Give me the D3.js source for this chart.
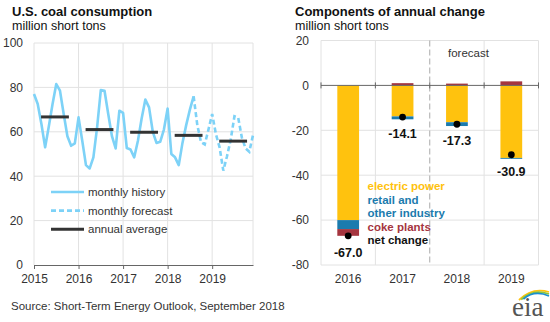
<!DOCTYPE html>
<html>
<head>
<meta charset="utf-8">
<script src="https://cdn.jsdelivr.net/npm/d3@7"></script>
<style>
  body { margin: 0; background: #fff; }
  svg { display: block; font-family: "Liberation Sans", Arial, sans-serif; }
</style>
</head>
<body>
<div id="chart"></div>
<script>
// ---- left panel: monthly coal consumption, million short tons ----
const yearLabels = ['2015', '2016', '2017', '2018', '2019'];

// Jan 2015 – Aug 2018
const monthlyHistory = [
  77, 72.5, 63.5, 53, 62.5, 72.5, 81.5, 78.5, 68, 58, 53.7, 54.8,
  66.5, 56, 45, 43.5, 48.5, 62, 78.8, 78.5, 68, 58, 52.5, 69.5,
  68.5, 52.7, 52, 48.5, 56, 66, 74.5, 71, 60, 55, 55.5, 61,
  70.5, 50, 48.5, 45, 55, 63, 70, 76
];
// Aug 2018 – Dec 2019 (first point shared with history)
const forecastStart = 43;
const monthlyForecast = [
  76, 63, 55.3, 54.3, 61,
  68, 59, 53, 42.5, 49, 56.5, 67, 66.5, 57.4, 52.5, 51, 58.5
];
const annualAverage = [66.7, 61.0, 59.8, 58.4, 55.8];

// ---- right panel: components of annual change ----
const changeYears = ['2016', '2017', '2018', '2019'];
const electricPower = [-60.0, -13.8, -16.4, -32.3];
const retailIndustry = [-4.0, -1.3, -1.7, -0.4];
const cokePlants = [-3.0, 1.0, 0.8, 1.8];
const netChange = [-67.0, -14.1, -17.3, -30.9];

const W = 550, H = 322;
const GRID = '#e2e2e2', AXIS = '#666', TXT = '#333';
const FONT = '"Liberation Sans", Arial, sans-serif';
const LIGHT_BLUE = '#7dd2f7';
const COLORS = { electric: '#ffc20e', retail: '#1b7bae', coke: '#a5353f' };

const svg = d3.select('#chart').append('svg')
  .attr('width', W).attr('height', H).attr('viewBox', `0 0 ${W} ${H}`);

// titles
function title(x, main, sub) {
  svg.append('text').attr('x', x).attr('y', 16)
    .attr('font-size', 13).attr('font-weight', 'bold').attr('fill', '#111').text(main);
  svg.append('text').attr('x', x).attr('y', 30)
    .attr('font-size', 12.5).attr('fill', '#111').text(sub);
}
title(12, 'U.S. coal consumption', 'million short tons');
title(295, 'Components of annual change', 'million short tons');

const styleTicks = a => a.selectAll('text')
  .attr('font-size', 12).attr('fill', TXT).attr('font-family', FONT);

/* ---------- left chart ---------- */
const L = { left: 34, right: 253, top: 43, bottom: 265 };
const xL = d3.scaleLinear().domain([0, 59]).range([L.left, L.right]);
const yL = d3.scaleLinear().domain([0, 100]).range([L.bottom, L.top]);
const gL = svg.append('g');

gL.selectAll('.hgrid').data([20, 40, 60, 80, 100]).join('line')
  .attr('x1', L.left).attr('x2', L.right)
  .attr('y1', d => yL(d)).attr('y2', d => yL(d))
  .attr('stroke', GRID);
gL.selectAll('.vgrid').data([0, 12, 24, 36, 48, 59]).join('line')
  .attr('x1', d => xL(d)).attr('x2', d => xL(d))
  .attr('y1', L.top).attr('y2', L.bottom)
  .attr('stroke', GRID);

gL.append('g').attr('transform', `translate(${L.left},0)`)
  .call(d3.axisLeft(yL).tickValues([0, 20, 40, 60, 80, 100])
    .tickFormat(d => String(d)).tickSize(0).tickPadding(11))
  .call(a => a.select('.domain').remove())
  .call(styleTicks);

gL.append('g').attr('transform', `translate(0,${L.bottom})`)
  .call(d3.axisBottom(xL).tickValues([0, 12, 24, 36, 48])
    .tickFormat((d, i) => yearLabels[i]).tickSizeInner(4).tickSizeOuter(0).tickPadding(5))
  .call(a => a.select('.domain').attr('stroke', AXIS))
  .call(a => a.selectAll('line').attr('stroke', AXIS))
  .call(styleTicks);

const histLine = d3.line().x((d, i) => xL(i)).y(d => yL(d));
const fcstLine = d3.line().x((d, i) => xL(forecastStart + i)).y(d => yL(d));

gL.append('path').datum(monthlyHistory)
  .attr('fill', 'none').attr('stroke', LIGHT_BLUE).attr('stroke-width', 2.6)
  .attr('stroke-linejoin', 'round').attr('d', histLine);
gL.append('path').datum(monthlyForecast)
  .attr('fill', 'none').attr('stroke', LIGHT_BLUE).attr('stroke-width', 2.6)
  .attr('stroke-dasharray', '5,3').attr('d', fcstLine);

// annual averages, drawn across the middle of each year
gL.selectAll('.avg').data(annualAverage).join('line')
  .attr('x1', (d, i) => xL(i * 12 + 1.9)).attr('x2', (d, i) => xL(i * 12 + 9.4))
  .attr('y1', d => yL(d)).attr('y2', d => yL(d))
  .attr('stroke', '#333').attr('stroke-width', 3);

const legL = gL.append('g');
[['monthly history', LIGHT_BLUE, null], ['monthly forecast', LIGHT_BLUE, '5,3'], ['annual average', '#333', null]]
  .forEach(([lbl, col, dash], i) => {
    const yy = 192 + i * 18.6;
    legL.append('line').attr('x1', 51).attr('x2', 84).attr('y1', yy).attr('y2', yy)
      .attr('stroke', col).attr('stroke-width', col === '#333' ? 3 : 2.6)
      .attr('stroke-dasharray', dash);
    legL.append('text').attr('x', 88).attr('y', yy + 4)
      .attr('font-size', 11.5).attr('fill', TXT).text(lbl);
  });

svg.append('text').attr('x', 11).attr('y', 310)
  .attr('font-size', 11.5).attr('fill', TXT)
  .text('Source: Short-Term Energy Outlook, September 2018');

/* ---------- right chart ---------- */
const R = { left: 321, right: 538.5, top: 40.5, bottom: 265 };
const xR = d3.scaleBand().domain(changeYears).range([R.left, R.right])
  .paddingInner(0.6).paddingOuter(0.3);
const yR = d3.scaleLinear().domain([-80, 20]).range([R.bottom, R.top]);
const gR = svg.append('g');
const step = xR.step();
const bounds = d3.range(changeYears.length + 1).map(k => R.left + k * step);

gR.selectAll('.hgrid').data([-80, -60, -40, -20, 20]).join('line')
  .attr('x1', R.left).attr('x2', R.right)
  .attr('y1', d => yR(d)).attr('y2', d => yR(d))
  .attr('stroke', GRID);
gR.selectAll('.vgrid').data(bounds.filter((d, k) => k !== 2)).join('line')
  .attr('x1', d => d).attr('x2', d => d)
  .attr('y1', R.top).attr('y2', R.bottom)
  .attr('stroke', GRID);
// forecast divider
gR.append('line')
  .attr('x1', bounds[2]).attr('x2', bounds[2])
  .attr('y1', R.top).attr('y2', R.bottom)
  .attr('stroke', '#aaa').attr('stroke-dasharray', '6,3');
gR.append('text').attr('x', 448).attr('y', 56.5)
  .attr('font-size', 11.5).attr('fill', TXT).text('forecast');

gR.append('g').attr('transform', `translate(${R.left},0)`)
  .call(d3.axisLeft(yR).tickValues([-80, -60, -40, -20, 0, 20])
    .tickFormat(d => String(d)).tickSize(0).tickPadding(12))
  .call(a => a.select('.domain').remove())
  .call(styleTicks);

gR.append('g').attr('transform', `translate(0,${R.bottom})`)
  .call(d3.axisBottom(xR).tickSize(0).tickPadding(9))
  .call(a => a.select('.domain').remove())
  .call(styleTicks);

const rows = changeYears.map((yr, i) => ({
  year: yr, electric: electricPower[i], retail: retailIndustry[i], coke: cokePlants[i]
}));
const stacked = d3.stack().keys(['electric', 'retail', 'coke'])
  .offset(d3.stackOffsetDiverging)(rows);

gR.selectAll('.layer').data(stacked).join('g')
  .attr('fill', d => COLORS[d.key])
  .selectAll('rect').data(d => d).join('rect')
  .attr('x', d => xR(d.data.year)).attr('width', xR.bandwidth())
  .attr('y', d => yR(Math.max(d[0], d[1])))
  .attr('height', d => Math.abs(yR(d[0]) - yR(d[1])));

// zero line with ticks at the category boundaries
gR.append('line').attr('x1', R.left).attr('x2', R.right)
  .attr('y1', yR(0)).attr('y2', yR(0)).attr('stroke', AXIS);
gR.selectAll('.ztick').data(bounds).join('line')
  .attr('x1', d => d).attr('x2', d => d)
  .attr('y1', yR(0) - 3).attr('y2', yR(0) + 3).attr('stroke', AXIS);

gR.selectAll('.net').data(netChange).join('circle')
  .attr('cx', (d, i) => xR(changeYears[i]) + xR.bandwidth() / 2)
  .attr('cy', d => yR(d)).attr('r', 3.4).attr('fill', '#000');
gR.selectAll('.netlbl').data(netChange).join('text')
  .attr('x', (d, i) => xR(changeYears[i]) + xR.bandwidth() / 2)
  .attr('y', d => yR(d) + 21)
  .attr('text-anchor', 'middle').attr('font-size', 12.5).attr('font-weight', 'bold')
  .attr('fill', '#111').text(d => d.toFixed(1));

const legR = [
  ['electric power', COLORS.electric],
  ['retail and', COLORS.retail],
  ['other industry', COLORS.retail],
  ['coke plants', COLORS.coke],
  ['net change', '#111']
];
gR.selectAll('.leg').data(legR).join('text')
  .attr('x', 367.5).attr('y', (d, i) => 190 + i * 13.5)
  .attr('font-size', 11.5).attr('font-weight', 'bold')
  .attr('fill', d => d[1]).text(d => d[0]);

// eia mark
const logo = svg.append('g');
[['#ffc20e', 0], ['#8cc63f', 2.2], ['#1b8fd0', 4.4]].forEach(([c, o]) => {
  logo.append('path')
    .attr('d', `M${519 + o},${300 - o * 0.2} Q${532 + o * 0.5},${287 + o * 0.6} ${549},${292 + o * 0.9}`)
    .attr('fill', 'none').attr('stroke', c).attr('stroke-width', 1.8);
});
logo.append('text').attr('x', 512).attr('y', 316)
  .attr('font-family', '"Liberation Serif", "DejaVu Serif", serif')
  .attr('font-size', 27).attr('fill', '#555').text('eia');
</script>
</body>
</html>
